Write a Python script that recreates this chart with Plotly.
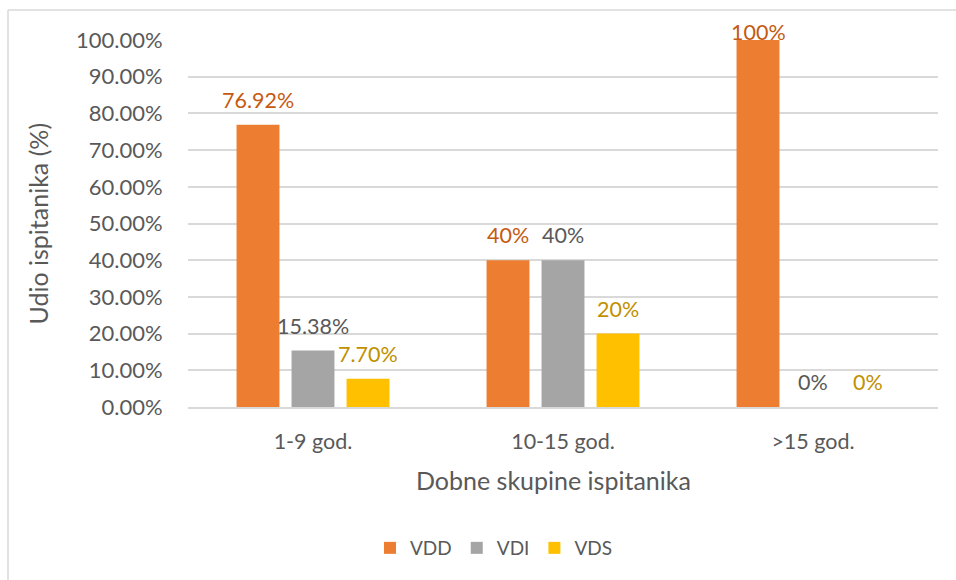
import plotly.graph_objects as go

categories = ["1-9 god.", "10-15 god.", ">15 god."]
series_names = ["VDD", "VDI", "VDS"]
vdd = [76.92, 40, 100]
vdi = [15.38, 40, 0]
vds = [7.70, 20, 0]
vdd_labels = ["76.92%", "40%", "100%"]
vdi_labels = ["15.38%", "40%", "0%"]
vds_labels = ["7.70%", "20%", "0%"]
y_ticks = [0, 10, 20, 30, 40, 50, 60, 70, 80, 90, 100]
y_ticktext = [f"{v:.2f}%" for v in y_ticks]

bar_colors = ["#ED7D31", "#A5A5A5", "#FFC000"]
label_colors = ["#C55A11", "#595959", "#BF9000"]
FONT = "Lato"
TXT = "#595959"

W, H = 956, 580
ML, MR, MT, MB = 188, 18, 40, 173
plot_h = H - MT - MB
plot_w = W - ML - MR

bargap = 0.34
bargroupgap = 0.22

fig = go.Figure()
all_vals = [vdd, vdi, vds]
all_labels = [vdd_labels, vdi_labels, vds_labels]
for name, vals, col in zip(series_names, all_vals, bar_colors):
    fig.add_trace(go.Bar(name=name, x=categories, y=vals, marker=dict(color=col, line=dict(width=0))))

slot = (1 - bargap) / 3
for si, (vals, labs) in enumerate(zip(all_vals, all_labels)):
    off = (si - 1) * slot
    for ci, (v, lab) in enumerate(zip(vals, labs)):
        px_above = (100 - v) / 100 * plot_h + 8
        shift = min(25, px_above)
        fig.add_annotation(x=ci + off, y=v, xref="x", yref="y", text=lab, showarrow=False,
                           yshift=shift, yanchor="middle", xanchor="center",
                           font=dict(family=FONT, size=21.5, color=label_colors[si]))

# axis titles
fig.add_annotation(x=(37 - ML) / plot_w, y=0.5, xref="paper", yref="paper", text="Udio ispitanika (%)",
                   textangle=-90, showarrow=False, xanchor="center", yanchor="middle",
                   font=dict(family=FONT, size=25, color=TXT))
fig.add_annotation(x=(553 - ML) / plot_w, y=-(480 - (MT + plot_h)) / plot_h, xref="paper", yref="paper",
                   text="Dobne skupine ispitanika", showarrow=False, xanchor="center", yanchor="middle",
                   font=dict(family=FONT, size=25, color=TXT))

# chart frame (left and top edges)
fx = (8 - ML) / plot_w
fy = (MT + plot_h - 10) / plot_h
fig.add_shape(type="line", xref="paper", yref="paper", x0=fx, x1=fx, y0=fy, y1=-1, line=dict(color="#D9D9D9", width=1.5))
fig.add_shape(type="line", xref="paper", yref="paper", x0=fx, x1=1.1, y0=fy, y1=fy, line=dict(color="#D9D9D9", width=1.5))

fig.update_layout(
    width=W, height=H,
    margin=dict(l=ML, r=MR, t=MT, b=MB),
    barmode="group", bargap=bargap, bargroupgap=bargroupgap,
    plot_bgcolor="white", paper_bgcolor="white",
    font=dict(family=FONT, size=21, color=TXT),
    showlegend=True,
    legend=dict(orientation="h", x=(494 - ML) / plot_w, xanchor="center",
                y=-(548 - (MT + plot_h)) / plot_h, yanchor="middle",
                font=dict(family=FONT, size=19, color=TXT), itemwidth=30,
                traceorder="normal"),
    xaxis=dict(showgrid=False, showline=True, linecolor="#D9D9D9", linewidth=1.5,
               ticks="outside", ticklen=14, tickcolor="rgba(0,0,0,0)",
               tickfont=dict(family=FONT, size=21.5, color=TXT)),
    yaxis=dict(range=[0, 100], tickvals=y_ticks, ticktext=y_ticktext,
               showgrid=True, gridcolor="#D9D9D9", gridwidth=1.5, zeroline=False, showline=False,
               ticks="outside", ticklen=20, tickcolor="rgba(0,0,0,0)",
               tickfont=dict(family=FONT, size=22, color=TXT)),
)

fig.write_html("out.html", config={"displayModeBar": False},
               post_script="document.body.style.margin='0';document.body.style.overflow='hidden';")
